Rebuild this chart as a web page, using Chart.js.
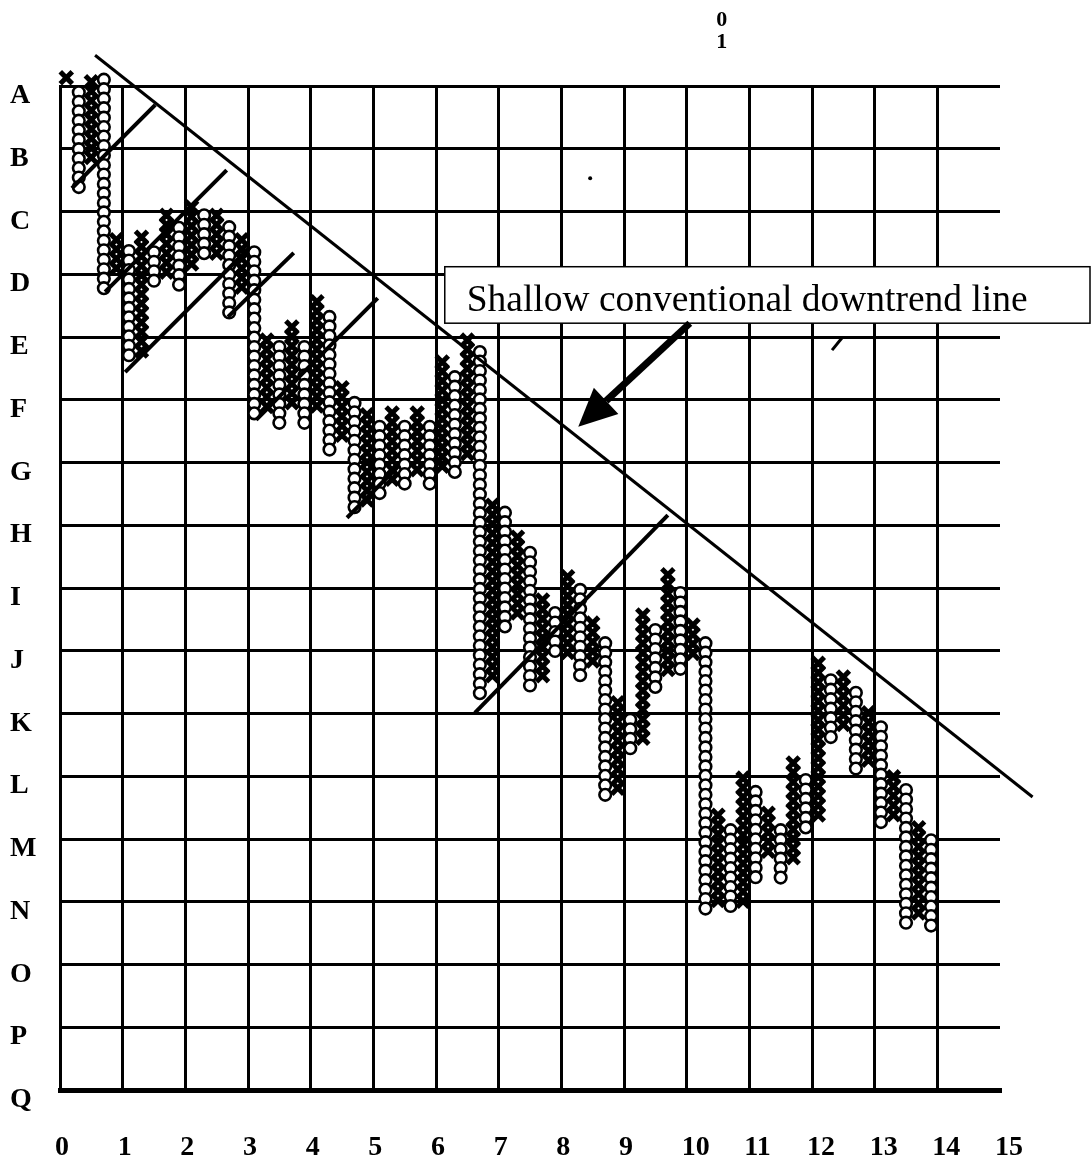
<!DOCTYPE html>
<html>
<head>
<meta charset="utf-8">
<script src="https://cdn.jsdelivr.net/npm/chart.js@4.4.0/dist/chart.umd.min.js"></script>
<style>
  body { margin: 0; background: #fff; }
  #wrap { width: 1091px; height: 1165px; }
</style>
</head>
<body>
<div id="wrap"><canvas id="pf" width="1091" height="1165"></canvas></div>
<script>
// row letters (A at top) and column numbers along the bottom
const rowLetters = ["A","B","C","D","E","F","G","H","I","J","K","L","M","N","O","P","Q"];
const colNumbers = [0,1,2,3,4,5,6,7,8,9,10,11,12,13,14,15];

// point & figure columns, alternating X / O, top and bottom in row units (A = 0)
const colTop = [-0.13, 0.10, -0.37, -0.10, 2.45, 2.63, 2.41, 2.65, 2.06, 2.26,
  1.93, 2.06, 2.06, 2.25, 2.45, 2.65, 4.05, 4.16, 3.84, 4.16,
  3.44, 3.68, 4.81, 5.05, 5.24, 5.43, 5.21, 5.43, 5.21, 5.43,
  4.40, 4.64, 4.05, 4.24, 6.68, 6.80, 7.19, 7.44, 8.19, 8.40,
  7.82, 8.03, 8.56, 8.88, 9.83, 10.10, 8.43, 8.67, 7.79, 8.08,
  8.59, 8.88, 11.62, 11.86, 11.03, 11.25, 11.59, 11.86, 10.79, 11.06,
  9.20, 9.47, 9.42, 9.67, 9.99, 10.22, 11.01, 11.22, 11.82, 12.02];
const colBottom = [-0.13, 1.61, 1.18, 3.22, 2.96, 4.33, 4.21, 3.12, 2.90, 3.12,
  2.85, 2.73, 2.65, 3.54, 3.22, 5.16, 5.08, 5.32, 5.08, 5.32,
  5.08, 5.75, 5.64, 6.76, 6.60, 6.49, 6.28, 6.31, 6.12, 6.31,
  6.12, 6.12, 5.91, 9.74, 9.47, 8.59, 8.46, 9.58, 9.35, 9.04,
  8.99, 9.35, 9.10, 11.33, 11.22, 10.53, 10.37, 9.55, 9.31, 9.31,
  9.10, 13.10, 12.92, 13.10, 12.92, 12.57, 12.22, 12.57, 12.33, 11.75,
  11.59, 10.37, 10.10, 10.90, 10.79, 11.75, 11.59, 13.32, 13.18, 13.32];
const BOX = 0.151;      // one box, in row units
const COL_STEP = 0.2;   // one column, in x units

// drawn trend lines [x1, y1, x2, y2]
const downtrend = [0.56, -0.49, 15.52, 11.33];
const uptrends = [
  [0.19, 1.63, 1.52, 0.30],
  [0.72, 3.28, 2.66, 1.34],
  [1.04, 4.56, 3.03, 2.57],
  [2.68, 3.68, 3.73, 2.66],
  [3.13, 5.32, 5.07, 3.38],
  [4.58, 6.88, 5.42, 6.04],
  [6.62, 9.99, 9.70, 6.84]
];

const noteText = "Shallow conventional downtrend line";

const xBoxes = [];
const oBoxes = [];
colTop.forEach(function (top, i) {
  const x = COL_STEP / 2 + COL_STEP * i;
  const n = Math.round((colBottom[i] - top) / BOX);
  for (let k = 0; k <= n; k++) {
    (i % 2 === 0 ? xBoxes : oBoxes).push({ x: x, y: top + k * BOX });
  }
});

function lineSet(l, w) {
  return {
    type: "line",
    data: [{ x: l[0], y: l[1] }, { x: l[2], y: l[3] }],
    borderColor: "#000",
    borderWidth: w,
    pointRadius: 0,
    showLine: true,
    clip: false,
    borderCapStyle: "butt"
  };
}

const datasets = [lineSet(downtrend, 3)];
uptrends.forEach(l => datasets.push(lineSet(l, 4)));
datasets.push({
  label: "X",
  data: xBoxes,
  pointStyle: "crossRot",
  pointRadius: 8.5,
  borderWidth: 5,
  borderColor: "#000",
  clip: false
});
datasets.push({
  label: "O",
  data: oBoxes,
  pointStyle: "circle",
  pointRadius: 5.8,
  borderWidth: 2.6,
  borderColor: "#000",
  backgroundColor: "#fff",
  clip: false
});

const notes = {
  id: "notes",
  beforeDatasetsDraw(chart) {
    const ctx = chart.ctx;
    const xs = chart.scales.x, ys = chart.scales.y;
    // callout box
    const bx = xs.getPixelForValue(6.14), by = ys.getPixelForValue(2.88);
    const bw = 1090 - bx, bh = ys.getPixelForValue(3.78) - by;
    ctx.save();
    ctx.fillStyle = "#fff";
    ctx.fillRect(bx, by, bw, bh);
    ctx.strokeStyle = "#000";
    ctx.lineWidth = 1.5;
    ctx.strokeRect(bx, by, bw, bh);
    ctx.fillStyle = "#000";
    ctx.font = "32px 'Liberation Serif', serif";
    const w = ctx.measureText(noteText).width;
    const size = 32 * 561 / w;
    ctx.font = size + "px 'Liberation Serif', serif";
    ctx.textBaseline = "alphabetic";
    ctx.fillText(noteText, xs.getPixelForValue(6.49), ys.getPixelForValue(3.59));
    ctx.restore();
  },
  afterDatasetsDraw(chart) {
    const ctx = chart.ctx;
    const xs = chart.scales.x, ys = chart.scales.y;
    ctx.save();
    // arrow
    const tx = xs.getPixelForValue(10.05), ty = ys.getPixelForValue(3.78);
    const hx = xs.getPixelForValue(8.27), hy = ys.getPixelForValue(5.43);
    const ang = Math.atan2(hy - ty, hx - tx);
    const headLen = 38, headHalf = 18;
    const bxp = hx - headLen * Math.cos(ang), byp = hy - headLen * Math.sin(ang);
    ctx.strokeStyle = "#000";
    ctx.lineWidth = 7;
    ctx.beginPath();
    ctx.moveTo(tx, ty);
    ctx.lineTo(bxp, byp);
    ctx.stroke();
    ctx.fillStyle = "#000";
    ctx.beginPath();
    ctx.moveTo(hx, hy);
    ctx.lineTo(bxp + headHalf * Math.sin(ang), byp - headHalf * Math.cos(ang));
    ctx.lineTo(bxp - headHalf * Math.sin(ang), byp + headHalf * Math.cos(ang));
    ctx.closePath();
    ctx.fill();
    // stray marks
    ctx.beginPath();
    ctx.arc(xs.getPixelForValue(8.46), ys.getPixelForValue(1.47), 2, 0, Math.PI * 2);
    ctx.fill();
    ctx.lineWidth = 3;
    ctx.beginPath();
    ctx.moveTo(xs.getPixelForValue(12.32), ys.getPixelForValue(4.21));
    ctx.lineTo(xs.getPixelForValue(12.49), ys.getPixelForValue(4.0));
    ctx.stroke();
    ctx.font = "bold 22px 'Liberation Serif', serif";
    ctx.textAlign = "center";
    ctx.textBaseline = "middle";
    ctx.fillText("0", xs.getPixelForValue(10.56), ys.getPixelForValue(-1.04));
    ctx.fillText("1", xs.getPixelForValue(10.56), ys.getPixelForValue(-0.70));
    ctx.restore();
  }
};

new Chart(document.getElementById("pf"), {
  type: "scatter",
  data: { datasets: datasets },
  options: {
    responsive: false,
    animation: false,
    layout: { padding: { top: 86, right: 91, left: 10, bottom: 0 } },
    plugins: { legend: { display: false }, tooltip: { enabled: false } },
    scales: {
      x: {
        type: "linear",
        min: 0,
        max: 15,
        afterFit: s => { s.height = 75; },
        afterBuildTicks: s => { s.ticks = colNumbers.map(v => ({ value: v })); },
        grid: {
          color: c => (c.tick && c.tick.value === 15 ? "rgba(0,0,0,0)" : "#000"),
          lineWidth: 3,
          drawTicks: false
        },
        border: { color: "#000", width: 5 },
        ticks: {
          color: "#000",
          align: "start",
          labelOffset: -5,
          padding: 41,
          font: { family: "'Liberation Serif', serif", size: 28, weight: "bold" },
          callback: v => String(v)
        }
      },
      y: {
        type: "linear",
        reverse: true,
        min: 0,
        max: 16,
        afterFit: s => { s.width = 50; },
        afterBuildTicks: s => { s.ticks = rowLetters.map((l, i) => ({ value: i })); },
        grid: { color: "#000", lineWidth: 3, drawTicks: false },
        border: { color: "#000", width: 3 },
        ticks: {
          color: "#000",
          crossAlign: "far",
          labelOffset: 10,
          padding: 10,
          font: { family: "'Liberation Serif', serif", size: 28, weight: "bold" },
          callback: v => rowLetters[v]
        }
      }
    }
  },
  plugins: [notes]
});
</script>
</body>
</html>
